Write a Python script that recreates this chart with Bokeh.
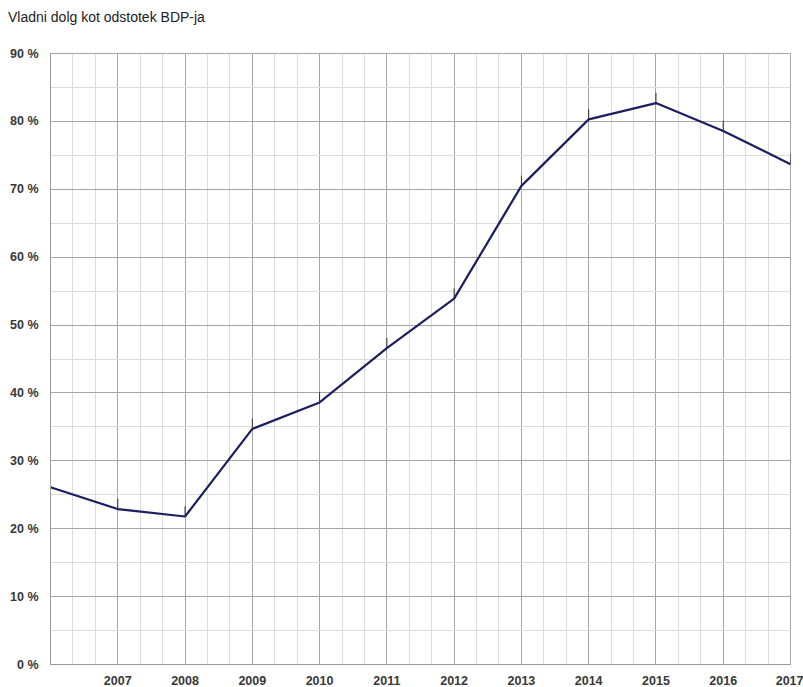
from bokeh.plotting import figure
from bokeh.models import FixedTicker, ColumnDataSource, Div
from bokeh.layouts import column
from bokeh.embed import file_html
from bokeh.resources import INLINE

title_text = "Vladni dolg kot odstotek BDP-ja"
years = [2006, 2007, 2008, 2009, 2010, 2011, 2012, 2013, 2014, 2015, 2016, 2017]
debt_pct = [26.1, 22.9, 21.8, 34.7, 38.6, 46.6, 53.9, 70.5, 80.3, 82.7, 78.6, 73.7]
y_ticks = [0, 10, 20, 30, 40, 50, 60, 70, 80, 90]

FONT = "Liberation Sans"
stub = 1.5  # length of small marker stub above each point (in %)

src = ColumnDataSource(dict(x=years, y=debt_pct,
                            ytop=[v + stub for v in debt_pct]))

W, H = 803, 687
TITLE_H = 30
title = Div(text=title_text, width=W, height=TITLE_H, margin=(0, 0, 0, 8),
            styles={"font-family": FONT, "font-size": "14px",
                    "color": "#222222", "padding-top": "9px",
                    "line-height": "16px"})

p = figure(width=W, height=H - TITLE_H, output_backend="svg",
           toolbar_location=None,
           x_range=(2006, 2017), y_range=(0, 90),
           min_border_left=50, min_border_right=13,
           min_border_top=53 - TITLE_H, min_border_bottom=17)
p.margin = (0, 0, 0, 0)

xminor = [y0 + k / 3 for y0 in years[:-1] for k in (1, 2)]
yminor = [t + 5 for t in y_ticks[:-1]]
p.xaxis.ticker = FixedTicker(ticks=years, minor_ticks=xminor)
p.yaxis.ticker = FixedTicker(ticks=y_ticks, minor_ticks=yminor)
p.xaxis.major_label_overrides = {2006: ""}
p.yaxis.major_label_overrides = {t: f"{t} %" for t in y_ticks}

for ax in (p.xaxis, p.yaxis):
    ax.major_label_text_font = FONT
    ax.major_label_text_font_size = "12.5px"
    ax.major_label_text_font_style = "bold"
    ax.major_label_text_color = "#383838"
    ax.major_tick_line_color = None
    ax.minor_tick_line_color = None
    ax.axis_line_color = "#9a9a9a"
    ax.major_label_standoff = 6
p.xaxis.major_label_standoff = 5

p.xgrid.grid_line_color = "#a6a6a6"
p.ygrid.grid_line_color = "#a6a6a6"
p.xgrid.minor_grid_line_color = "#dcdcdc"
p.ygrid.minor_grid_line_color = "#dcdcdc"
p.outline_line_color = "#a6a6a6"
p.background_fill_color = "white"
p.border_fill_color = "white"

p.segment(x0="x", y0="y", x1="x", y1="ytop", source=src,
          line_color="#333333", line_width=1)
p.line(x="x", y="y", source=src, line_color="#1b1f5e", line_width=2.2)

layout = column(title, p, spacing=0)
open("out.html", "w").write(file_html(layout, INLINE))
